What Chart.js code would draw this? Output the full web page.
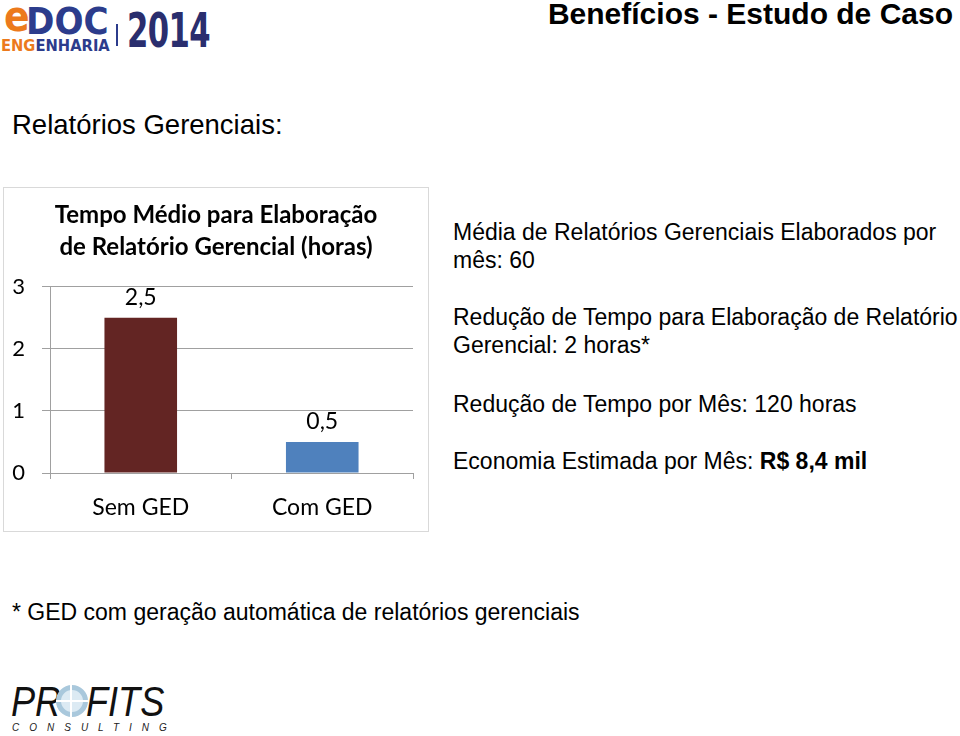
<!DOCTYPE html>
<html lang="pt-BR">
<head>
<meta charset="utf-8">
<title>Benefícios - Estudo de Caso</title>
<script src="https://cdn.jsdelivr.net/npm/chart.js@4.4.0/dist/chart.umd.min.js"></script>
<style>
  body { margin: 0; width: 960px; height: 736px; background: #fff; position: relative; overflow: hidden;
         font-family: "Liberation Sans", Arial, sans-serif; color: #000; }
  .abs { position: absolute; white-space: nowrap; }
  .titulo { right: 7px; top: -2px; font-size: 30px; font-weight: bold; line-height: 32px; }
  .sub { left: 12px; top: 110px; font-size: 27.5px; line-height: 30px; }
  .txt { left: 453px; font-size: 23px; line-height: 28px; }
  .nota { left: 12px; top: 598px; font-size: 23px; line-height: 28px; }
  #caixa { position: absolute; left: 3px; top: 187px; width: 426px; height: 345px;
           border: 1px solid #d9d9d9; box-sizing: border-box; }
  /* logos em texto */
  .edoc { font-family: "DejaVu Sans", sans-serif; font-weight: bold; transform-origin: left top; }
  .profits { font-family: "Liberation Sans", Arial, sans-serif; font-style: italic; color: #111;
             transform-origin: left top; }
</style>
</head>
<body>

<!-- logo eDOC ENGENHARIA 2014 -->
<div class="abs edoc" style="left:4px;top:-4px;font-size:42px;line-height:42px;color:#ec7a1c;transform:scaleX(0.9);">e</div>
<div class="abs edoc" style="left:26px;top:2px;font-size:38px;line-height:38px;color:#2c3c8c;transform:scaleX(0.9);">DOC</div>
<div class="abs edoc" style="left:1px;top:37px;font-size:16px;line-height:18px;transform:scaleX(0.92);"><span style="color:#ec7a1c">ENG</span><span style="color:#2c3c8c">ENHARIA</span></div>
<div class="abs" style="left:116px;top:24px;width:2px;height:22px;background:#2c3c8c;"></div>
<div class="abs edoc" style="left:127px;top:6px;font-size:48px;line-height:48px;color:#2a2e6e;letter-spacing:-1px;transform:scaleX(0.64);">2014</div>

<div class="abs titulo">Benefícios - Estudo de Caso</div>
<div class="abs sub">Relatórios Gerenciais:</div>

<div id="caixa"><canvas id="grafico"></canvas></div>

<div class="abs txt" style="top:218px;">Média de Relatórios Gerenciais Elaborados por<br>mês: 60</div>
<div class="abs txt" style="top:303px;">Redução de Tempo para Elaboração de Relatório<br>Gerencial: 2 horas*</div>
<div class="abs txt" style="top:390px;">Redução de Tempo por Mês: 120 horas</div>
<div class="abs txt" style="top:447px;">Economia Estimada por Mês: <b>R$ 8,4 mil</b></div>

<div class="abs nota">* GED com geração automática de relatórios gerenciais</div>

<!-- logo PROFITS CONSULTING -->
<div class="abs profits" style="left:11px;top:681px;font-size:42px;line-height:42px;transform:scaleX(0.86);">PR</div>
<div class="abs" style="left:56px;top:685px;width:22px;height:22px;border-radius:50%;border:5px solid #a9c8dc;background:#dceaf3;"></div>
<div class="abs" style="left:70px;top:685px;width:2px;height:32px;background:#fff;"></div>
<div class="abs" style="left:56px;top:700px;width:32px;height:2px;background:#fff;"></div>
<div class="abs profits" style="left:86px;top:681px;font-size:42px;line-height:42px;transform:scaleX(0.86);">FITS</div>
<div class="abs" style="left:12px;top:722px;font-size:10px;line-height:12px;letter-spacing:10px;font-style:italic;color:#222;">CONSULTING</div>

<script>
const categorias = ['Sem GED', 'Com GED'];
const horas = [2.5, 0.5];
const ticksY = [0, 1, 2, 3];
const tituloGrafico = ['Tempo Médio para Elaboração', 'de Relatório Gerencial (horas)'];

const fonte = 'Lato, "Open Sans", sans-serif';

// rotulos de valor sobre as barras (sem plugin externo)
const rotulos = {
  id: 'rotulos',
  afterDatasetsDraw(chart) {
    const ctx = chart.ctx;
    const meta = chart.getDatasetMeta(0);
    ctx.save();
    ctx.font = '23px ' + fonte;
    ctx.fillStyle = '#000';
    ctx.textAlign = 'center';
    ctx.textBaseline = 'middle';
    meta.data.forEach((barra, i) => {
      ctx.fillText(String(horas[i]).replace('.', ','), barra.x, barra.y - 20);
    });
    ctx.restore();
  }
};

let ctx = document.querySelector('#grafico').getContext('2d');
let grafico = new Chart(ctx, {
  type: 'bar',
  data: {
    labels: categorias,
    datasets: [{
      data: horas,
      backgroundColor: ['#632523', '#4f81bd'],
      borderWidth: 0,
      barPercentage: 0.4,
      categoryPercentage: 1
    }]
  },
  plugins: [rotulos],
  options: {
    responsive: true,
    maintainAspectRatio: false,
    animation: false,
    layout: { padding: 0 },
    plugins: {
      legend: { display: false },
      tooltip: { enabled: false },
      title: {
        display: true,
        text: tituloGrafico,
        color: '#000',
        font: { family: fonte, size: 24, weight: 'bold', lineHeight: 1.33 },
        padding: { top: 11, bottom: 24 }
      }
    },
    scales: {
      x: {
        offset: true,
        grid: { drawOnChartArea: false, drawTicks: true, tickLength: 6, color: '#a0a0a0', offset: true },
        border: { display: true, color: '#a0a0a0' },
        ticks: { color: '#000', padding: 15, font: { family: fonte, size: 23 } },
        afterFit(scale) { scale.height = 58; }
      },
      y: {
        min: 0,
        max: 3,
        afterBuildTicks(scale) { scale.ticks = ticksY.map(v => ({ value: v })); },
        grid: { color: '#a0a0a0', tickLength: 8 },
        border: { display: true, color: '#a0a0a0' },
        ticks: { color: '#000', padding: 17, font: { family: fonte, size: 22 } },
        afterFit(scale) { scale.width = 46; }
      },
      // eixo vazio a direita, so para deixar a margem do grafico
      margemDireita: {
        type: 'linear',
        position: 'right',
        min: 0,
        max: 3,
        grid: { display: false },
        border: { display: false },
        ticks: { display: false },
        afterFit(scale) { scale.width = 15; }
      }
    }
  }
});
</script>
</body>
</html>
